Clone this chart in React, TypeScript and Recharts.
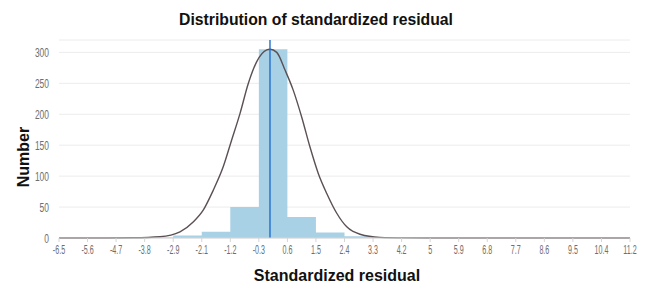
import React from "react";
import {
  ComposedChart,
  Area,
  Line,
  XAxis,
  YAxis,
  CartesianGrid,
  ReferenceLine,
} from "recharts";

// Bin edges (true positions) and the tick labels printed under them
const binEdges = [
  -6.5, -5.615, -4.73, -3.845, -2.96, -2.075, -1.19, -0.305, 0.58, 1.465, 2.35,
  3.235, 4.12, 5.005, 5.89, 6.775, 7.66, 8.545, 9.43, 10.315, 11.2,
];
const tickLabels = [
  "-6.5", "-5.6", "-4.7", "-3.8", "-2.9", "-2.1", "-1.2", "-0.3", "0.6", "1.5",
  "2.4", "3.3", "4.2", "5", "5.9", "6.8", "7.7", "8.6", "9.5", "10.4", "11.2",
];
// Counts per bin (20 bins) + trailing 0 for the closing edge
const binCounts = [0, 1, 0, 1, 4, 10, 50, 305, 34, 9, 3, 0, 0, 0, 0, 0, 0, 0, 0, 0, 0];

// Fitted curve
const curveX = [
  -6.5, -5.0, -4.2, -3.37, -2.75, -2.34, -2.03, -1.72, -1.41, -1.15, -0.89,
  -0.63, -0.37, -0.06, 0.04, 0.25, 0.51, 0.76, 1.02, 1.28, 1.54, 1.8, 2.11,
  2.42, 2.83, 3.45, 4.2, 5.0, 11.2,
];
const curveY = [
  0, 0, 0.3, 2, 10, 26, 45, 77, 115, 158, 201, 250, 285, 304, 305, 300, 271,
  239, 196, 147, 104, 72, 40, 18, 6, 1, 0.2, 0, 0,
];

const yTicks = [0, 50, 100, 150, 200, 250, 300];
const meanValue = 0.04;

const histData = binEdges.map((x, i) => ({ x, count: binCounts[i] }));
const curveData = curveX.map((x, i) => ({ x, fit: curveY[i] }));

const W = 649;
const H = 284;
const tickFont = "'Liberation Sans', Arial, sans-serif";
const boldFont = "'Liberation Sans', Arial, Helvetica, sans-serif";

const XTick = (props: any) => {
  const { x, y, payload } = props;
  const i = binEdges.indexOf(payload.value);
  const label = i >= 0 ? tickLabels[i] : String(payload.value);
  return (
    <g transform={`translate(${x},${y})`}>
      <text
        transform="scale(0.55,1)"
        x={0}
        y={10}
        textAnchor="middle"
        fill="#6e6e6e"
        fontSize={13}
        fontFamily={tickFont}
      >
        {label}
      </text>
    </g>
  );
};

const YTick = (props: any) => {
  const { x, y, payload } = props;
  return (
    <g transform={`translate(${x},${y})`}>
      <text
        transform="scale(0.65,1)"
        x={0}
        y={4.5}
        textAnchor="end"
        fill="#6e6e6e"
        fontSize={13}
        fontFamily={tickFont}
      >
        {String(payload.value)}
      </text>
    </g>
  );
};

export default function App() {
  return (
    <div style={{ position: "absolute", left: 0, top: 0, width: W, height: H, background: "#fff" }}>
      <ComposedChart
        width={W}
        height={H}
        margin={{ top: 40, right: 19, bottom: 0, left: 0 }}
      >
        <CartesianGrid vertical={false} stroke="#ececec" />
        <XAxis
          dataKey="x"
          type="number"
          domain={[-6.5, 11.2]}
          ticks={binEdges}
          interval={0}
          allowDataOverflow
          height={46}
          tickSize={4}
          tickMargin={2}
          stroke="#d5d5d5"
          tick={<XTick />}
        />
        <YAxis
          type="number"
          domain={[0, 320]}
          ticks={yTicks}
          width={59}
          tickLine={false}
          axisLine={false}
          tickMargin={4}
          tick={<YTick />}
        />
        <Area
          data={histData}
          dataKey="count"
          type="stepAfter"
          stroke="none"
          fill="#a9d1e5"
          fillOpacity={1}
          isAnimationActive={false}
          dot={false}
          activeDot={false}
        />
        <Line
          data={curveData}
          dataKey="fit"
          type="monotone"
          stroke="#5a5055"
          strokeWidth={1.4}
          dot={false}
          activeDot={false}
          isAnimationActive={false}
        />
        <ReferenceLine x={meanValue} stroke="#1f6fd0" strokeWidth={1.4} />
      </ComposedChart>
      <svg
        width={W}
        height={H}
        style={{ position: "absolute", left: 0, top: 0, pointerEvents: "none" }}
      >
        <text
          x={316}
          y={25}
          textAnchor="middle"
          fontFamily={boldFont}
          fontWeight="bold"
          fontSize={15.75}
          fill="#111"
        >
          Distribution of standardized residual
        </text>
        <text
          x={337}
          y={281}
          textAnchor="middle"
          fontFamily={boldFont}
          fontWeight="bold"
          fontSize={16}
          fill="#111"
        >
          Standardized residual
        </text>
        <text
          x={28.5}
          y={157}
          textAnchor="middle"
          transform="rotate(-90 28.5 157)"
          fontFamily={boldFont}
          fontWeight="bold"
          fontSize={16}
          fill="#111"
        >
          Number
        </text>
      </svg>
    </div>
  );
}
